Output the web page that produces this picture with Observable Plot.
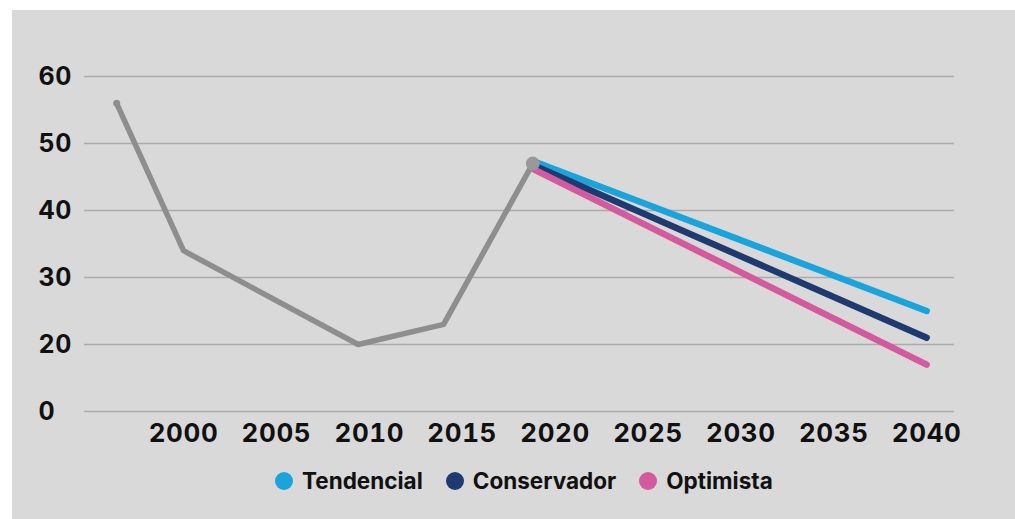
<!DOCTYPE html>
<html><head><meta charset="utf-8">
<script src="https://cdn.jsdelivr.net/npm/d3@7"></script>
<script src="https://cdn.jsdelivr.net/npm/@observablehq/plot@0.6"></script>
<style>
body{margin:0;background:#fff;}
#wrap{position:relative;width:1015px;height:519px;overflow:hidden;}
#bg{position:absolute;left:12px;top:10px;right:0;bottom:0;background:#d9d9d9;}
#chart{position:absolute;left:0;top:0;}
#legend{position:absolute;left:275px;top:469px;display:flex;align-items:center;font-family:Inter,sans-serif;font-weight:700;font-size:22.5px;color:#111;line-height:24px;}
.item{display:flex;align-items:center;margin-right:23px;}
.sw{width:18px;height:18px;border-radius:50%;margin-right:9px;}
.yt text{font-size:25px;}
</style>
</head><body>
<div id="wrap"><div id="bg"></div><div id="chart"></div><div id="legend"></div></div>
<script>
// Historical series (gray)
const histYears = [1996.4, 2000, 2009.4, 2014, 2018.8];
const histValues = [56, 34, 20, 23, 47];
// Projections
const projYears = [2018.8, 2040];
const seriesNames = ["Tendencial", "Conservador", "Optimista"];
const seriesStart = [47.4, 46.8, 46.2];
const seriesEnd = [25, 21, 17];
const seriesColors = ["#1ba3dc", "#1f3a70", "#d45aa0"];
// Axes
const xTicks = [2000, 2005, 2010, 2015, 2020, 2025, 2030, 2035, 2040];
const yTicks = [10, 20, 30, 40, 50, 60];
const yTickLabels = ["0", "20", "30", "40", "50", "60"];

const hist = histYears.map((y, i) => ({year: y, value: histValues[i]}));
const proj = [];
seriesNames.forEach((s, i) => {
  proj.push({series: s, year: projYears[0], value: seriesStart[i]});
  proj.push({series: s, year: projYears[1], value: seriesEnd[i]});
});

const chart = Plot.plot({
  width: 1015,
  height: 460,
  marginLeft: 84,
  marginRight: 61,
  marginTop: 76,
  marginBottom: 49,
  style: {background: "transparent", fontFamily: "Inter, sans-serif", fontSize: "26px", fontWeight: 700, color: "#111", overflow: "visible", letterSpacing: "0.6px"},
  x: {domain: [1994.67, 2041.5]},
  y: {domain: [10, 60]},
  color: {domain: seriesNames, range: seriesColors},
  marks: [
    Plot.gridY(yTicks, {stroke: "#ababab", strokeOpacity: 1, strokeWidth: 1.5}),
    Plot.axisY({ticks: yTicks, tickSize: 0, tickPadding: 0, textAnchor: "start", dx: -46, fontSize: 25,
      tickFormat: d => yTickLabels[yTicks.indexOf(d)], label: null}),
    Plot.axisX({ticks: xTicks, tickSize: 0, tickPadding: 12, tickFormat: d => String(d), label: null}),
    Plot.line(proj, {x: "year", y: "value", z: "series", stroke: "series", strokeWidth: 6.5, strokeLinecap: "round"}),
    Plot.line(hist, {x: "year", y: "value", stroke: "#8e8e8e", strokeWidth: 5.5, strokeLinejoin: "round", strokeLinecap: "round"}),
    Plot.dot([hist[0]], {x: "year", y: "value", r: 3.5, fill: "#8e8e8e"}),
    Plot.dot([hist[hist.length - 1]], {x: "year", y: "value", r: 7, fill: "#999"})
  ]
});
document.getElementById("chart").appendChild(chart);

const legend = document.getElementById("legend");
seriesNames.forEach((s, i) => {
  const it = document.createElement("div");
  it.className = "item";
  const sw = document.createElement("span");
  sw.className = "sw";
  sw.style.background = seriesColors[i];
  const t = document.createElement("span");
  t.textContent = s;
  it.appendChild(sw); it.appendChild(t);
  legend.appendChild(it);
});
</script>
</body></html>
